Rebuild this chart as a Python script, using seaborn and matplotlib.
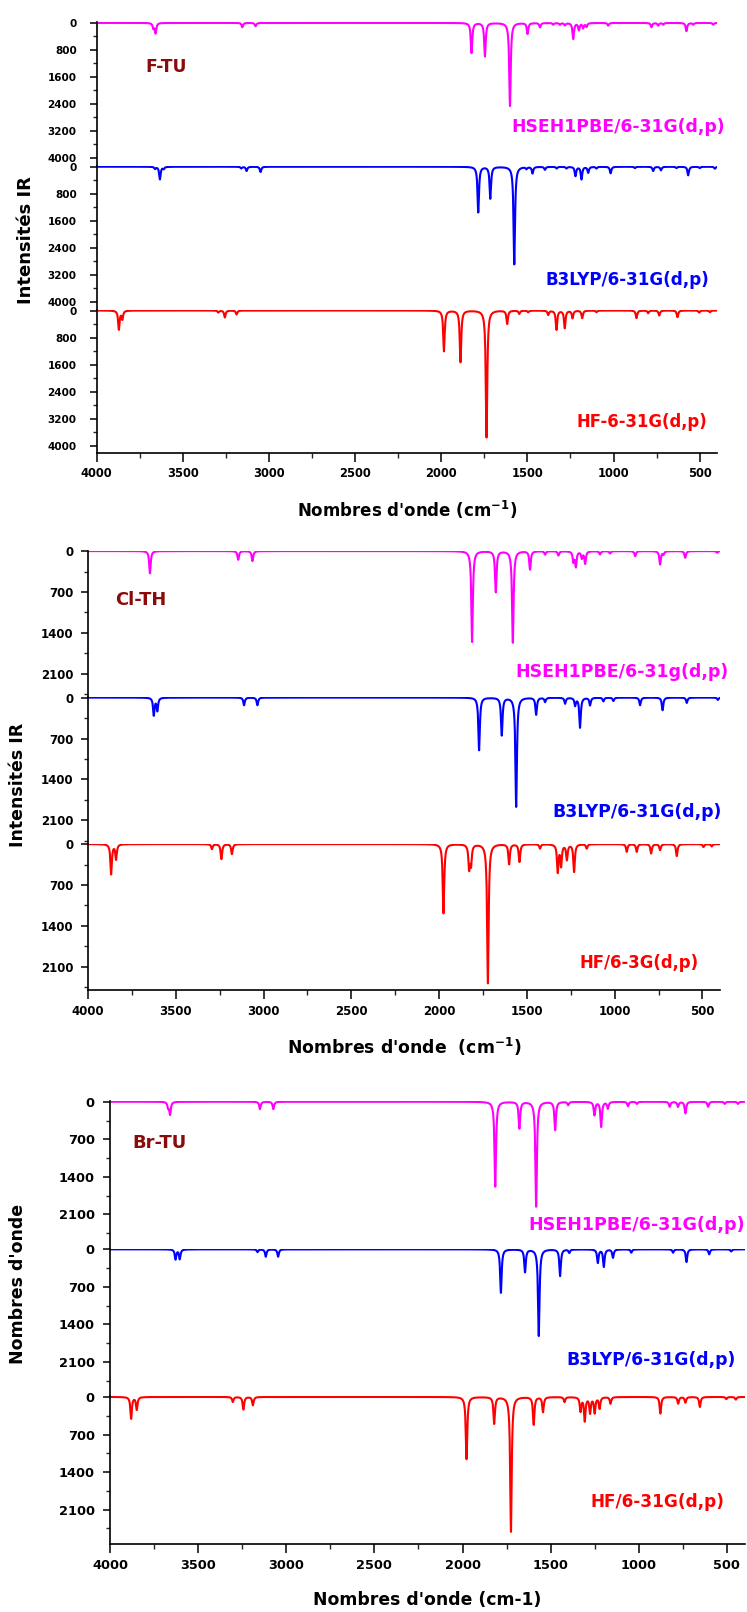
import numpy as np
import pandas as pd
import matplotlib
matplotlib.use("Agg")
import matplotlib.pyplot as plt
import seaborn as sns
from matplotlib.ticker import MultipleLocator

# ---------------------------------------------------------------------------
# Calculated IR bands (wavenumber in cm-1, peak intensity) for each molecule
# and each level of theory.
# ---------------------------------------------------------------------------
ftu_hse_freq = [3670, 3657, 3154, 3077, 1824, 1746, 1601, 1499, 1427, 1350, 1311,
                1282, 1234, 1201, 1176, 1157, 1031, 780, 741, 712, 577, 538, 422]
ftu_hse_int = [150, 300, 127, 98, 892, 990, 2460, 323, 127, 50, 50,
               70, 470, 206, 147, 110, 80, 127, 80, 50, 245, 50, 50]

ftu_b3lyp_freq = [3660, 3632, 3610, 3160, 3129, 3048, 1785, 1715, 1576, 1505, 1470,
                  1398, 1330, 1273, 1221, 1186, 1147, 1099, 1017, 876, 770, 725,
                  635, 567, 500, 412]
ftu_b3lyp_int = [60, 372, 60, 50, 127, 157, 1352, 941, 2891, 60, 196,
                 88, 50, 50, 274, 372, 176, 50, 196, 40, 127, 108,
                 40, 255, 40, 60]

ftu_hf_freq = [3870, 3850, 3293, 3255, 3187, 1984, 1888, 1737, 1617, 1547, 1495,
               1379, 1331, 1283, 1238, 1182, 1099, 867, 799, 735, 629, 503, 441]
ftu_hf_int = [560, 250, 60, 206, 118, 1205, 1529, 3760, 392, 98, 50,
              127, 568, 519, 225, 225, 50, 225, 80, 147, 196, 60, 50]

clth_hse_freq = [3647, 3144, 3063, 1812, 1677, 1580, 1482, 1396, 1320, 1235, 1221,
                 1187, 1168, 1083, 1026, 883, 741, 722, 598, 416]
clth_hse_int = [380, 148, 171, 1553, 700, 1565, 313, 57, 74, 171, 256,
                114, 210, 57, 40, 85, 228, 50, 114, 28]

clth_b3lyp_freq = [3625, 3605, 3111, 3035, 1772, 1643, 1561, 1447, 1396, 1282, 1225,
                   1197, 1140, 1064, 1007, 855, 727, 589, 412]
clth_b3lyp_int = [300, 220, 131, 131, 899, 643, 1866, 290, 74, 102, 131,
                  512, 131, 63, 57, 131, 216, 91, 40]

clth_hf_freq = [3868, 3840, 3294, 3240, 3180, 1975, 1829, 1818, 1722, 1601, 1542,
                1425, 1324, 1305, 1272, 1231, 1159, 931, 874, 792, 741, 646, 494, 447]
clth_hf_int = [512, 256, 85, 256, 171, 1184, 400, 330, 2378, 341, 302,
               74, 470, 360, 260, 472, 74, 131, 131, 159, 102, 205, 50, 40]

brtu_hse_freq = [3670, 3659, 3149, 3073, 1814, 1677, 1582, 1474, 1400, 1251, 1213,
                 1175, 1061, 1010, 824, 777, 735, 606, 512, 437]
brtu_hse_int = [100, 230, 137, 137, 1581, 496, 1953, 527, 62, 248, 465,
                124, 81, 40, 93, 93, 217, 93, 40, 40]

brtu_b3lyp_freq = [3628, 3604, 3163, 3116, 3046, 1782, 1645, 1567, 1446, 1394, 1232,
                   1198, 1146, 1042, 805, 729, 600, 475]
brtu_b3lyp_int = [186, 180, 50, 137, 137, 810, 422, 1612, 496, 62, 248,
                  322, 155, 62, 62, 236, 93, 40]

brtu_hf_freq = [3880, 3848, 3303, 3243, 3189, 1977, 1820, 1725, 1596, 1543, 1421,
                1330, 1306, 1276, 1250, 1222, 1160, 877, 776, 735, 653, 503, 449]
brtu_hf_int = [403, 235, 93, 235, 155, 1159, 496, 2511, 515, 279, 93,
               260, 440, 290, 290, 210, 124, 310, 124, 105, 186, 40, 50]

molecules = ["F-TU", "Cl-TH", "Br-TU"]
methods = [
    ["HSEH1PBE/6-31G(d,p)", "B3LYP/6-31G(d,p)", "HF-6-31G(d,p)"],
    ["HSEH1PBE/6-31g(d,p)", "B3LYP/6-31G(d,p)", "HF/6-3G(d,p)"],
    ["HSEH1PBE/6-31G(d,p)", "B3LYP/6-31G(d,p)", "HF/6-31G(d,p)"],
]
ylabels = ["Intensités IR", "Intensités IR", "Nombres d'onde"]
xlabels = ["Nombres d'onde (cm$^{-1}$)", "Nombres d'onde  (cm$^{-1}$)",
           "Nombres d'onde (cm-1)"]
x_ticks = [4000, 3500, 3000, 2500, 2000, 1500, 1000, 500]

bands = [
    [(ftu_hse_freq, ftu_hse_int), (ftu_b3lyp_freq, ftu_b3lyp_int), (ftu_hf_freq, ftu_hf_int)],
    [(clth_hse_freq, clth_hse_int), (clth_b3lyp_freq, clth_b3lyp_int), (clth_hf_freq, clth_hf_int)],
    [(brtu_hse_freq, brtu_hse_int), (brtu_b3lyp_freq, brtu_b3lyp_int), (brtu_hf_freq, brtu_hf_int)],
]

# ---------------------------------------------------------------------------
# Styling
# ---------------------------------------------------------------------------
sns.set_theme(style="white")
plt.rcParams["font.family"] = ["DejaVu Sans"]
plt.rcParams["font.weight"] = "bold"
plt.rcParams["mathtext.default"] = "bf"

COLORS = ["#FF00FF", "#0000FF", "#FF0000"]
MOL_COLOR = "#8B0A0A"
W, H = 747, 1612


def lorentz(freqs, ints, grid, hwhm=5.0):
    """Sum of Lorentzian bands, each scaled so its own maximum equals its intensity."""
    f = np.asarray(freqs, float)[:, None]
    a = np.asarray(ints, float)[:, None]
    return (a * hwhm ** 2 / ((grid[None, :] - f) ** 2 + hwhm ** 2)).sum(axis=0)


grid = np.arange(400.0, 4000.01, 0.5)

# Block geometry in pixels: left, right, bottom of stack, height of one trace,
# y-limits, y step, label sizes and positions.
blocks = [
    dict(left=96.5, right=717, bottom=453.3, h=143.8, ylim=(4230, -30), step=800,
         ytick_fs=7.5, xtick_fs=8.3, ypad=9.5, xpad=3.5,
         mol=(145, 67, 12.3), xlab=(406.7, 510, 12.0), ylab=(26, 240, 13.0),
         meth=[(725, 127.3, 12.4), (709, 280, 12.1), (707, 421.7, 11.9)]),
    dict(left=88, right=720, bottom=990, h=146.5, ylim=(2495, -10), step=700,
         ytick_fs=8.5, xtick_fs=8.5, ypad=5.5, xpad=4.0,
         mol=(115.4, 600, 12.9), xlab=(404, 1046.7, 12.4), ylab=(18, 785, 12.5),
         meth=[(728.3, 671.7, 12.5), (721.7, 811.7, 12.4), (698.3, 963.3, 11.9)]),
    dict(left=110, right=744.5, bottom=1544, h=147.6, ylim=(2740, -10), step=700,
         ytick_fs=9.3, xtick_fs=9.3, ypad=6.2, xpad=4.5,
         mol=(132.6, 1143.3, 13.0), xlab=(427, 1600, 12.4), ylab=(18, 1284, 12.5),
         meth=[(745, 1225, 12.6), (736, 1360, 12.4), (725, 1501.7, 12.2)]),
]

fig = plt.figure(figsize=(W / 100, H / 100), dpi=100)
fig.patch.set_facecolor("white")

for b_i, blk in enumerate(blocks):
    top_px = blk["bottom"] - 3 * blk["h"]
    for k in range(3):
        ax_top = top_px + k * blk["h"]
        rect = [blk["left"] / W, 1 - (ax_top + blk["h"]) / H,
                (blk["right"] - blk["left"]) / W, blk["h"] / H]
        ax = fig.add_axes(rect)
        ax.set_facecolor("none")
        freqs, ints = bands[b_i][k]
        df = pd.DataFrame({"wn": grid, "I": lorentz(freqs, ints, grid)})
        sns.lineplot(data=df, x="wn", y="I", ax=ax, color=COLORS[k], lw=1.5,
                     estimator=None, sort=False, legend=False)
        ax.set_xlim(4000, 400)
        ax.set_ylim(*blk["ylim"])
        ax.set_xlabel("")
        ax.set_ylabel("")
        for s in ["top", "right"]:
            ax.spines[s].set_visible(False)
        ax.spines["left"].set_linewidth(1.2)
        ax.spines["left"].set_color("black")
        ax.yaxis.set_major_locator(MultipleLocator(blk["step"]))
        ax.yaxis.set_minor_locator(MultipleLocator(blk["step"] / 2))
        ax.tick_params(axis="y", which="major", direction="out", length=4.8, width=1.1,
                       left=True, labelsize=blk["ytick_fs"], pad=blk["ypad"], colors="black")
        ax.tick_params(axis="y", which="minor", direction="out", length=2.9, width=1.0,
                       left=True)
        for lab in ax.get_yticklabels():
            lab.set_fontweight("bold")
        if k < 2:
            ax.spines["bottom"].set_visible(False)
            ax.tick_params(axis="x", which="both", bottom=False, labelbottom=False)
        else:
            ax.spines["bottom"].set_linewidth(1.2)
            ax.spines["bottom"].set_color("black")
            ax.set_xticks(x_ticks)
            ax.xaxis.set_minor_locator(MultipleLocator(250))
            ax.tick_params(axis="x", which="major", direction="out", length=6.5, width=1.1,
                           bottom=True, labelsize=blk["xtick_fs"], pad=blk["xpad"],
                           colors="black")
            ax.tick_params(axis="x", which="minor", direction="out", length=3.6, width=1.0,
                           bottom=True)
            for lab in ax.get_xticklabels():
                lab.set_fontweight("bold")

        mx, my, mfs = blk["meth"][k]
        fig.text(mx / W, 1 - my / H, methods[b_i][k], color=COLORS[k], fontsize=mfs,
                 fontweight="bold", ha="right", va="center")

    x0, y0, fs = blk["mol"]
    fig.text(x0 / W, 1 - y0 / H, molecules[b_i], color=MOL_COLOR, fontsize=fs,
             fontweight="bold", ha="left", va="center")
    x0, y0, fs = blk["xlab"]
    fig.text(x0 / W, 1 - y0 / H, xlabels[b_i], fontsize=fs, fontweight="bold",
             ha="center", va="center", color="black")
    x0, y0, fs = blk["ylab"]
    fig.text(x0 / W, 1 - y0 / H, ylabels[b_i], fontsize=fs, fontweight="bold",
             ha="center", va="center", rotation=90, color="black")

fig.savefig("out.png", dpi=100, facecolor="white")
